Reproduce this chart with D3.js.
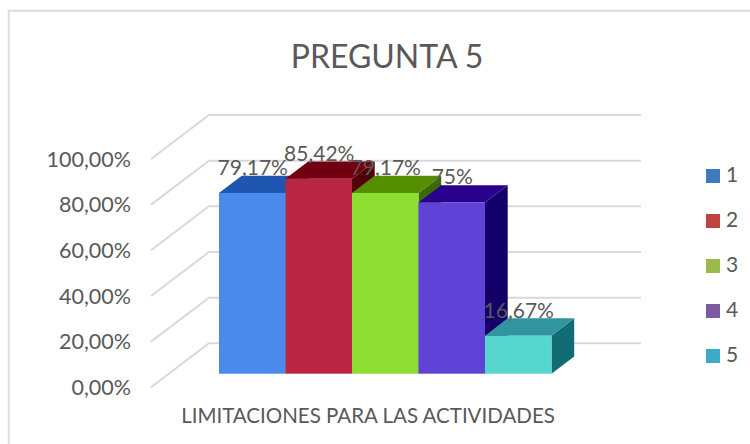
<!DOCTYPE html>
<html><head><meta charset="utf-8">
<style>html,body{margin:0;padding:0;background:#fff}svg{display:block}text{font-family:Lato,"Open Sans",sans-serif}</style>
<script src="https://d3js.org/d3.v7.min.js"></script>
</head><body><svg id="c" width="750" height="444"></svg>
<script>
const titleText = "PREGUNTA 5";
const axisTitle = "LIMITACIONES PARA LAS ACTIVIDADES";
const series = ["1","2","3","4","5"];
const values = [79.17,85.42,79.17,75,16.67];
const labels = ["79,17%","85,42%","79,17%","75%","16,67%"];
const yTicks = [0,20,40,60,80,100];
const frontColors = ["#4a8aec","#b82644","#8ddd33","#5f43d6","#57d5cf"];
const topColors = ["#1f57b0","#700011","#558f00","#2a008e","#30959f"];
const sideColors = ["#123d85","#520008","#3a6a00","#130069","#116c73"];
const legendColors = ["#3f7cbf","#be4442","#9abb4b","#7d5ba3","#3dabc8"];

const svg = d3.select("#c");
const y = d3.scaleLinear().domain([0,100]).range([373.7,145.4]);
const x = d3.scaleBand().domain(series).range([219,551.5]).padding(0);
const depthX = 22.7, depthY = -17.3;
const gridBack = d3.scaleLinear().domain([0,100]).range([343.3,115]);
const gridFront = d3.scaleLinear().domain([0,100]).range([387.3,159]);

svg.append("rect").attr("x",8.7).attr("y",10.7).attr("width",760).attr("height",460)
  .attr("fill","#fff").attr("stroke","#dcdcdc").attr("stroke-width",2);

svg.append("text").attr("x",387).attr("y",68).attr("text-anchor","middle")
  .attr("font-size",32).attr("fill","#595959").text(titleText);

const grid = svg.append("g").attr("fill","none").attr("stroke","#d9d9d9").attr("stroke-width",2);
grid.selectAll("path").data(yTicks).join("path")
  .attr("d",d=>`M151,${gridFront(d)}L209,${gridBack(d)}L641,${gridBack(d)}`);

svg.append("g").selectAll("text").data(yTicks).join("text")
  .attr("x",131).attr("y",d=>gridFront(d)+7.7).attr("text-anchor","end")
  .attr("font-size",21.5).attr("fill","#595959")
  .text(d=>d3.format(".2f")(d).replace(".",",")+"%");

const bars = svg.append("g").selectAll("g").data(series).join("g");
bars.append("path").attr("fill",(d,i)=>sideColors[i])
  .attr("d",(d,i)=>{const r=x(d)+x.bandwidth(),t=y(values[i]),b=y(0);
    return `M${r},${t}L${r+depthX},${t+depthY}L${r+depthX},${b+depthY}L${r},${b}Z`;});
bars.append("path").attr("fill",(d,i)=>topColors[i])
  .attr("d",(d,i)=>{const l=x(d),r=l+x.bandwidth(),t=y(values[i]);
    return `M${l},${t}L${l+depthX},${t+depthY}L${r+depthX},${t+depthY}L${r},${t}Z`;});
bars.append("rect").attr("fill",(d,i)=>frontColors[i])
  .attr("x",d=>x(d)).attr("width",x.bandwidth())
  .attr("y",(d,i)=>y(values[i])).attr("height",(d,i)=>y(0)-y(values[i]));

svg.append("g").selectAll("text").data(series).join("text")
  .attr("x",d=>x(d)+x.bandwidth()/2+0.5)
  .attr("y",(d,i)=>y(values[i])-18)
  .attr("text-anchor","middle").attr("font-size",21).attr("fill","#595959")
  .text((d,i)=>labels[i]);

svg.append("text").attr("x",368).attr("y",423).attr("text-anchor","middle")
  .attr("font-size",20.5).attr("fill","#595959").text(axisTitle);

const legend = svg.append("g").selectAll("g").data(series).join("g")
  .attr("transform",(d,i)=>`translate(706,${169+i*45})`);
legend.append("rect").attr("width",14).attr("height",14).attr("fill",(d,i)=>legendColors[i]);
legend.append("text").attr("x",20).attr("y",13).attr("font-size",21).attr("fill","#595959").text(d=>d);
</script></body></html>
